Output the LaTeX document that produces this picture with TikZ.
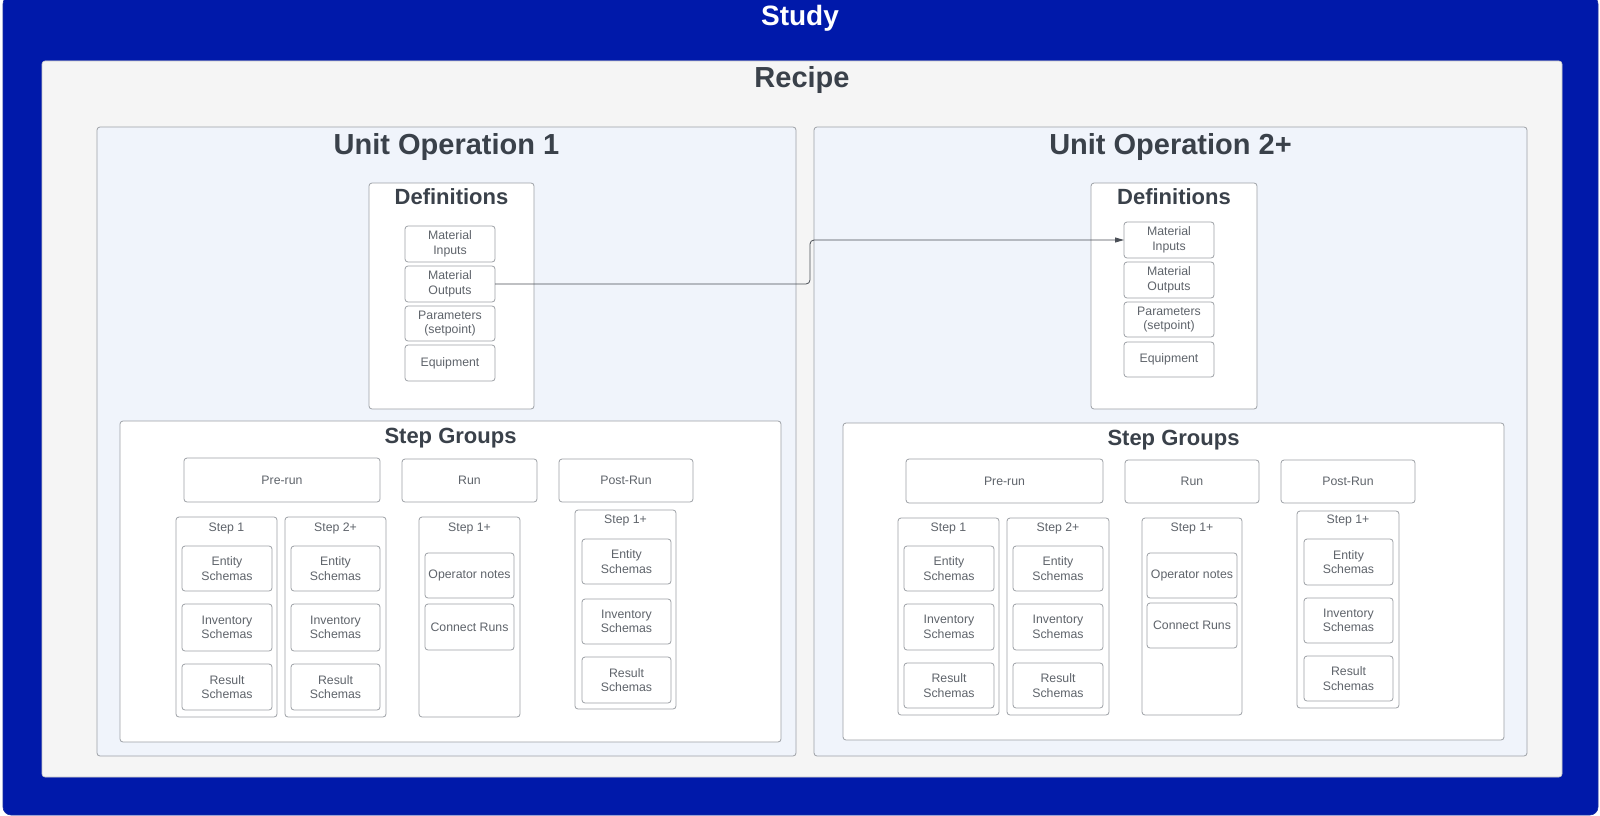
\documentclass[tikz,border=0pt]{standalone}
\usepackage{fontspec}
\setmainfont{Liberation Sans}
\usetikzlibrary{arrows.meta}
\definecolor{studyblue}{HTML}{0019AA}
\definecolor{recipebg}{HTML}{F5F5F5}
\definecolor{uobg}{HTML}{F0F4FB}
\definecolor{boxgray}{HTML}{9DA1A6}
\definecolor{titletext}{HTML}{3A414A}
\definecolor{smalltext}{HTML}{5F646B}
\definecolor{connc}{HTML}{4A4F56}
\newcommand\rbox[7]{\node[#6, minimum width={(#4-#2)*1pt}, minimum height={(#5-#3)*1pt}] (#1) at ({(#2+#4)/2},{(#3+#5)/2}) {#7};}
\tikzset{
  base/.style={rectangle, inner sep=0pt, outer sep=0pt},
  outerbox/.style={base, rounded corners=8pt, fill=studyblue, draw=studyblue!80!gray, line width=0.6pt},
  recipebox/.style={base, rounded corners=3pt, fill=recipebg, draw=black!22, line width=0.6pt},
  uobox/.style={base, rounded corners=3pt, fill=uobg, draw=boxgray, line width=0.8pt},
  panel/.style={base, rounded corners=3pt, fill=white, draw=boxgray, line width=0.8pt},
  item/.style={base, rounded corners=3pt, fill=white, draw=boxgray, line width=0.8pt, align=center, text=smalltext, font=\fontsize{12.3}{14.5}\selectfont},
  bigtitle/.style={inner sep=0pt, anchor=base, text=titletext, font=\fontsize{29}{32}\selectfont\bfseries},
  midtitle/.style={inner sep=0pt, anchor=base, text=titletext, font=\fontsize{22}{26}\selectfont\bfseries},
  steplabel/.style={inner sep=0pt, anchor=base, text=smalltext, font=\fontsize{12.3}{14.5}\selectfont},
  conn/.style={draw=connc, line width=0.8pt, rounded corners=4pt, -{Triangle[length=9pt,width=5pt]}},
}
\begin{document}
\begin{tikzpicture}[x=1pt,y=-1pt]
\useasboundingbox (0,0) rectangle (1600,816);
\fill[white] (0,0) rectangle (1600,816);
% Study
\rbox{study}{3}{-4}{1598}{815}{outerbox}{}
\node[bigtitle, text=white, font=\fontsize{28}{32}\selectfont\bfseries] (tStudy) at (800,26) {Study};
% Recipe
\rbox{recipe}{42}{61}{1562}{777}{recipebox}{}
\node[bigtitle] (tRecipe) at (802,88) {Recipe};
% Unit operations
\rbox{uoA}{97}{127}{796}{756}{uobox}{}
\node[bigtitle] (tUoA) at (446.5,154) {Unit Operation 1};
\rbox{uoB}{814}{127}{1527}{756}{uobox}{}
\node[bigtitle] (tUoB) at (1170.5,154) {Unit Operation 2+};
% Definitions A
\rbox{defA}{369}{183}{534}{409}{panel}{}
\node[midtitle] (tDefA) at (451.5,204) {Definitions};
\rbox{miA}{405}{226}{495}{262}{item}{Material\\Inputs}
\rbox{moA}{405}{266}{495}{302}{item}{Material\\Outputs}
\rbox{paA}{405}{306}{495}{341}{item}{Parameters\\(setpoint)}
\rbox{eqA}{405}{345}{495}{381}{item}{Equipment}
% Definitions B
\rbox{defB}{1091}{183}{1257}{409}{panel}{}
\node[midtitle] (tDefB) at (1174,204) {Definitions};
\rbox{miB}{1124}{222}{1214}{258}{item}{Material\\Inputs}
\rbox{moB}{1124}{262}{1214}{298}{item}{Material\\Outputs}
\rbox{paB}{1124}{302}{1214}{337}{item}{Parameters\\(setpoint)}
\rbox{eqB}{1124}{342}{1214}{377}{item}{Equipment}
% Step groups A
\rbox{sgA}{120}{421}{781}{742}{panel}{}
\node[midtitle] (tSgA) at (450.5,443) {Step Groups};
\rbox{preA}{184}{458}{380}{502}{item}{Pre-run}
\rbox{runA}{402}{459}{537}{502}{item}{Run}
\rbox{postA}{559}{459}{693}{502}{item}{Post-Run}
\rbox{cOneA}{176}{517}{277}{717}{panel}{}
\node[steplabel] (lOneA) at (226.5,531) {Step 1};
\rbox{eOneA}{182}{546}{272}{591}{item}{Entity\\Schemas}
\rbox{iOneA}{182}{604}{272}{651}{item}{Inventory\\Schemas}
\rbox{rOneA}{182}{664}{272}{710}{item}{Result\\Schemas}
\rbox{cTwoA}{285}{517}{386}{717}{panel}{}
\node[steplabel] (lTwoA) at (335.5,531) {Step 2+};
\rbox{eTwoA}{291}{546}{380}{591}{item}{Entity\\Schemas}
\rbox{iTwoA}{291}{604}{380}{651}{item}{Inventory\\Schemas}
\rbox{rTwoA}{291}{664}{380}{710}{item}{Result\\Schemas}
\rbox{cRunA}{419}{517}{520}{717}{panel}{}
\node[steplabel] (lRunA) at (469.5,531) {Step 1+};
\rbox{opA}{425}{553}{514}{598}{item}{Operator notes}
\rbox{crA}{425}{604}{514}{650}{item}{Connect Runs}
\rbox{cPostA}{575}{510}{676}{709}{panel}{}
\node[steplabel] (lPostA) at (625.5,523) {Step 1+};
\rbox{ePostA}{582}{539}{671}{584}{item}{Entity\\Schemas}
\rbox{iPostA}{582}{599}{671}{644}{item}{Inventory\\Schemas}
\rbox{rPostA}{582}{657}{671}{703}{item}{Result\\Schemas}
% Step groups B
\rbox{sgB}{843}{423}{1504}{740}{panel}{}
\node[midtitle] (tSgB) at (1173.5,445) {Step Groups};
\rbox{preB}{906}{459}{1103}{503}{item}{Pre-run}
\rbox{runB}{1125}{460}{1259}{503}{item}{Run}
\rbox{postB}{1281}{460}{1415}{503}{item}{Post-Run}
\rbox{cOneB}{898}{518}{999}{715}{panel}{}
\node[steplabel] (lOneB) at (948.5,531) {Step 1};
\rbox{eOneB}{904}{546}{994}{591}{item}{Entity\\Schemas}
\rbox{iOneB}{904}{604}{994}{650}{item}{Inventory\\Schemas}
\rbox{rOneB}{904}{663}{994}{708}{item}{Result\\Schemas}
\rbox{cTwoB}{1007}{518}{1109}{715}{panel}{}
\node[steplabel] (lTwoB) at (1058,531) {Step 2+};
\rbox{eTwoB}{1013}{546}{1103}{591}{item}{Entity\\Schemas}
\rbox{iTwoB}{1013}{604}{1103}{650}{item}{Inventory\\Schemas}
\rbox{rTwoB}{1013}{663}{1103}{708}{item}{Result\\Schemas}
\rbox{cRunB}{1142}{518}{1242}{715}{panel}{}
\node[steplabel] (lRunB) at (1192,531) {Step 1+};
\rbox{opB}{1147}{553}{1237}{598}{item}{Operator notes}
\rbox{crB}{1147}{603}{1237}{648}{item}{Connect Runs}
\rbox{cPostB}{1297}{511}{1399}{708}{panel}{}
\node[steplabel] (lPostB) at (1348,523) {Step 1+};
\rbox{ePostB}{1304}{539}{1393}{585}{item}{Entity\\Schemas}
\rbox{iPostB}{1304}{598}{1393}{643}{item}{Inventory\\Schemas}
\rbox{rPostB}{1304}{656}{1393}{701}{item}{Result\\Schemas}
% connector
\coordinate (bendx) at (810,0);
\draw[conn] (moA.east) -| (bendx |- miB.west) -- (miB.west);
\end{tikzpicture}
\end{document}
